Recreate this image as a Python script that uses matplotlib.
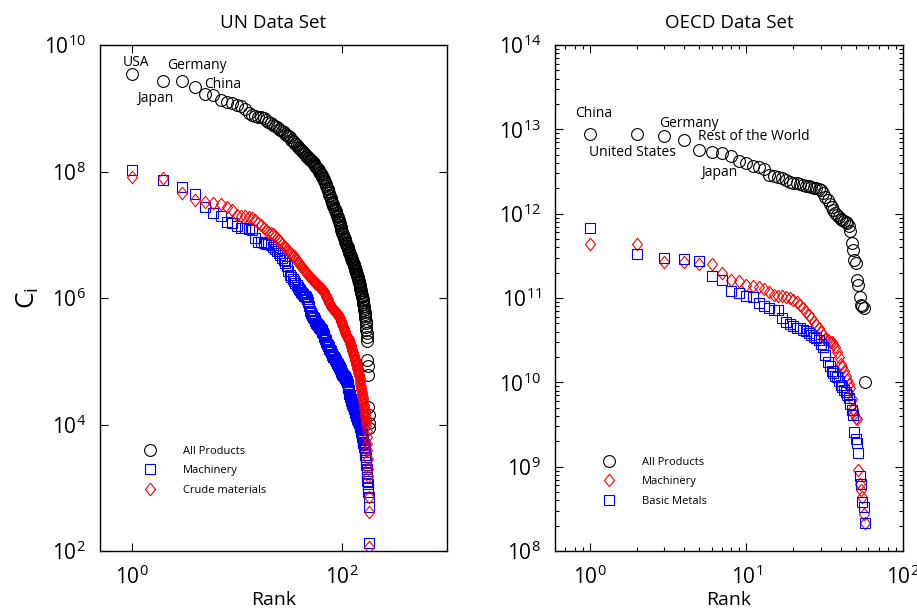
"""Rank plots of C_i for the UN and OECD data sets (log-log)."""

import numpy as np
import matplotlib
matplotlib.use("Agg")
import matplotlib.pyplot as plt
from matplotlib.ticker import LogLocator, NullFormatter

plt.rcParams["font.family"] = ["Open Sans", "DejaVu Sans"]
plt.rcParams["mathtext.fontset"] = "custom"
plt.rcParams["mathtext.rm"] = "Open Sans"
plt.rcParams["mathtext.it"] = "Open Sans:italic"
plt.rcParams["mathtext.bf"] = "Open Sans:bold"

# ---- UN data set, log10(C_i) by rank -------------------------------------
un_all_log = [
    9.55, 9.43, 9.43, 9.34, 9.22, 9.21, 9.13, 9.10, 9.08, 9.05,
    9.03, 8.99, 8.93, 8.89, 8.88, 8.87, 8.86, 8.84, 8.81, 8.79,
    8.77, 8.74, 8.72, 8.70, 8.67, 8.66, 8.64, 8.62, 8.60, 8.58,
    8.56, 8.54, 8.50, 8.48, 8.46, 8.44, 8.42, 8.39, 8.38, 8.36,
    8.34, 8.33, 8.31, 8.29, 8.27, 8.25, 8.24, 8.22, 8.21, 8.19,
    8.18, 8.16, 8.14, 8.13, 8.11, 8.09, 8.07, 8.05, 8.04, 8.02,
    8.00, 7.98, 7.96, 7.94, 7.92, 7.90, 7.88, 7.85, 7.83, 7.80,
    7.77, 7.74, 7.72, 7.69, 7.66, 7.63, 7.61, 7.58, 7.55, 7.52,
    7.50, 7.48, 7.46, 7.43, 7.41, 7.39, 7.37, 7.35, 7.32, 7.30,
    7.28, 7.25, 7.23, 7.20, 7.18, 7.15, 7.13, 7.10, 7.08, 7.05,
    7.03, 7.01, 6.99, 6.97, 6.95, 6.93, 6.91, 6.89, 6.87, 6.85,
    6.83, 6.82, 6.80, 6.78, 6.77, 6.75, 6.73, 6.72, 6.70, 6.68,
    6.66, 6.65, 6.63, 6.61, 6.60, 6.58, 6.57, 6.55, 6.54, 6.52,
    6.50, 6.48, 6.47, 6.45, 6.43, 6.42, 6.40, 6.38, 6.37, 6.35,
    6.33, 6.31, 6.29, 6.27, 6.25, 6.23, 6.21, 6.19, 6.17, 6.15,
    6.13, 6.10, 6.08, 6.05, 6.03, 6.01, 5.99, 5.97, 5.93, 5.90,
    5.87, 5.84, 5.81, 5.78, 5.75, 5.72, 5.68, 5.64, 5.60, 5.55,
    5.50, 5.45, 5.38, 5.32, 5.02, 4.92, 4.78, 4.28, 4.15, 4.03, 3.95,
]
un_machinery_log = [
    8.02, 7.87, 7.75, 7.65, 7.44, 7.35, 7.30, 7.21, 7.19, 7.14,
    7.11, 7.10, 7.09, 7.08, 6.95, 6.89, 6.88, 6.87, 6.86, 6.85,
    6.84, 6.80, 6.77, 6.74, 6.71, 6.68, 6.64, 6.60, 6.56, 6.50,
    6.43, 6.37, 6.33, 6.30, 6.27, 6.24, 6.21, 6.17, 6.14, 6.12,
    6.10, 6.08, 6.06, 6.04, 6.03, 6.02, 5.98, 5.93, 5.87, 5.80,
    5.76, 5.73, 5.70, 5.68, 5.65, 5.63, 5.61, 5.59, 5.57, 5.56,
    5.55, 5.53, 5.51, 5.49, 5.47, 5.45, 5.42, 5.39, 5.36, 5.33,
    5.30, 5.28, 5.26, 5.24, 5.22, 5.20, 5.18, 5.16, 5.14, 5.12,
    5.10, 5.09, 5.07, 5.06, 5.04, 5.03, 5.01, 5.00, 4.98, 4.97,
    4.96, 4.94, 4.93, 4.91, 4.90, 4.88, 4.87, 4.85, 4.83, 4.82,
    4.80, 4.79, 4.78, 4.77, 4.76, 4.75, 4.74, 4.73, 4.72, 4.71,
    4.69, 4.67, 4.64, 4.61, 4.58, 4.55, 4.52, 4.49, 4.46, 4.43,
    4.41, 4.39, 4.37, 4.35, 4.34, 4.33, 4.32, 4.30, 4.28, 4.26,
    4.25, 4.23, 4.21, 4.19, 4.17, 4.15, 4.13, 4.11, 4.10, 4.09,
    4.08, 4.07, 4.06, 4.05, 4.04, 4.03, 4.02, 4.00, 3.98, 3.96,
    3.94, 3.91, 3.88, 3.85, 3.82, 3.80, 3.77, 3.75, 3.73, 3.71,
    3.69, 3.67, 3.65, 3.63, 3.60, 3.56, 3.52, 3.48, 3.44, 3.40,
    3.36, 3.30, 3.24, 3.17, 3.10, 3.06, 3.00, 2.93, 2.86, 2.70, 2.13,
]
un_crude_log = [
    7.91, 7.90, 7.66, 7.55, 7.52, 7.50, 7.49, 7.44, 7.39, 7.31,
    7.30, 7.29, 7.28, 7.27, 7.23, 7.19, 7.15, 7.11, 7.07, 7.05,
    7.03, 7.01, 6.98, 6.95, 6.92, 6.89, 6.86, 6.83, 6.80, 6.77,
    6.75, 6.72, 6.70, 6.68, 6.66, 6.63, 6.60, 6.57, 6.55, 6.53,
    6.51, 6.49, 6.47, 6.45, 6.43, 6.41, 6.39, 6.37, 6.35, 6.33,
    6.32, 6.30, 6.29, 6.27, 6.26, 6.24, 6.23, 6.22, 6.20, 6.19,
    6.18, 6.17, 6.16, 6.15, 6.14, 6.13, 6.11, 6.09, 6.07, 6.05,
    6.02, 6.00, 5.98, 5.96, 5.94, 5.92, 5.90, 5.88, 5.86, 5.85,
    5.84, 5.83, 5.82, 5.81, 5.80, 5.79, 5.78, 5.77, 5.76, 5.75,
    5.74, 5.72, 5.71, 5.70, 5.69, 5.68, 5.66, 5.64, 5.62, 5.60,
    5.58, 5.56, 5.54, 5.52, 5.50, 5.48, 5.46, 5.44, 5.42, 5.41,
    5.40, 5.39, 5.38, 5.37, 5.36, 5.35, 5.34, 5.32, 5.30, 5.28,
    5.26, 5.24, 5.22, 5.20, 5.18, 5.16, 5.14, 5.12, 5.10, 5.08,
    5.06, 5.04, 5.02, 5.00, 4.98, 4.96, 4.94, 4.92, 4.90, 4.88,
    4.86, 4.84, 4.82, 4.80, 4.78, 4.76, 4.73, 4.70, 4.67, 4.64,
    4.61, 4.58, 4.55, 4.52, 4.49, 4.46, 4.43, 4.40, 4.37, 4.34,
    4.31, 4.28, 4.25, 4.22, 4.18, 4.15, 4.12, 4.09, 4.06, 4.03,
    3.98, 3.90, 3.80, 3.70, 3.60, 3.45, 3.30, 3.18, 2.85, 2.61, 2.07,
]
un_labels = ["USA", "Japan", "Germany", "China"]
un_label_xy = [(1.10, 9.72), (1.69, 9.15), (4.16, 9.68), (7.36, 9.37)]

# ---- OECD data set, log10(C_i) by rank -----------------------------------
oecd_all_log = [
    12.95, 12.94, 12.92, 12.87, 12.75, 12.73, 12.72, 12.68, 12.62, 12.60,
    12.56, 12.55, 12.53, 12.46, 12.45, 12.44, 12.42, 12.40, 12.38, 12.37,
    12.36, 12.35, 12.34, 12.33, 12.33, 12.32, 12.31, 12.30, 12.29, 12.28,
    12.25, 12.20, 12.16, 12.12, 12.08, 12.04, 12.01, 11.98, 11.96, 11.94,
    11.92, 11.91, 11.90, 11.89, 11.85, 11.80, 11.65, 11.57, 11.45, 11.41,
    11.21, 11.15, 11.01, 10.92, 10.90, 10.88, 10.01,
]
oecd_machinery_log = [
    11.64, 11.64, 11.43, 11.43, 11.40, 11.40, 11.30, 11.21, 11.20, 11.15,
    11.14, 11.13, 11.11, 11.07, 11.04, 11.03, 11.03, 11.01, 11.00, 10.98,
    10.95, 10.92, 10.88, 10.84, 10.80, 10.76, 10.72, 10.68, 10.64, 10.60,
    10.56, 10.52, 10.50, 10.48, 10.48, 10.46, 10.42, 10.36, 10.30, 10.22,
    10.18, 10.14, 10.08, 10.03, 9.98, 9.93, 9.80, 9.69, 9.63, 9.58,
    9.57, 8.96, 8.80, 8.72, 8.64, 8.44, 8.33,
]
oecd_metals_log = [
    11.83, 11.52, 11.48, 11.46, 11.44, 11.26, 11.21, 11.08, 11.06, 11.02,
    11.01, 10.94, 10.90, 10.88, 10.86, 10.86, 10.76, 10.72, 10.69, 10.67,
    10.65, 10.64, 10.62, 10.61, 10.59, 10.56, 10.54, 10.53, 10.50, 10.46,
    10.42, 10.32, 10.24, 10.20, 10.14, 10.11, 10.08, 10.06, 10.02, 9.97,
    9.94, 9.91, 9.89, 9.85, 9.81, 9.74, 9.67, 9.61, 9.41, 9.33,
    9.28, 9.16, 8.89, 8.80, 8.58, 8.52, 8.33,
]
oecd_labels = ["China", "United States", "Germany", "Rest of the World", "Japan"]
oecd_label_xy = [(1.06, 13.19), (1.88, 12.72), (4.27, 13.07), (11.2, 12.91), (6.73, 12.49)]


def ranked(logs):
    vals = 10.0 ** np.asarray(logs)
    return np.arange(1, len(vals) + 1), vals


def style_axis(ax):
    ax.tick_params(which="both", direction="in", top=True, right=True,
                   labelsize=15, width=0.8, pad=10)
    ax.tick_params(which="major", length=6)
    ax.tick_params(which="minor", length=3)
    for sp in ax.spines.values():
        sp.set_linewidth(1.0)


fig = plt.figure(figsize=(9.17, 6.13), dpi=100)
ax1 = fig.add_axes([0.1091, 0.1011, 0.3784, 0.8254])
ax2 = fig.add_axes([0.6052, 0.1011, 0.3795, 0.8254])

# MATLAB-like diamond: a bit narrower than tall
diamond = [(0, 1), (0.8, 0), (0, -1), (-0.8, 0), (0, 1)]

mk = dict(linestyle="none", markerfacecolor="none", markeredgewidth=0.8)
circ = dict(marker="o", markersize=8.5, color="black")
sq = dict(marker="s", markersize=7, color="#0000ff")
dia = dict(marker=diamond, markersize=9, color="#ff0000")

# UN panel
x, y = ranked(un_all_log)
ax1.plot(x, y, label="All Products", **circ, **mk)
x, y = ranked(un_machinery_log)
ax1.plot(x, y, label="Machinery", **sq, **mk)
x, y = ranked(un_crude_log)
ax1.plot(x, y, label="Crude materials", **dia, **mk)

ax1.set_xscale("log")
ax1.set_yscale("log")
ax1.set_xlim(0.5, 1000)
ax1.set_ylim(1e2, 1e10)
ax1.set_xticks([1, 100])
ax1.set_yticks([1e2, 1e4, 1e6, 1e8, 1e10])
ax1.minorticks_off()
style_axis(ax1)
for name, (lx, ly) in zip(un_labels, un_label_xy):
    ax1.text(lx, 10 ** ly, name, ha="center", va="center", fontsize=10)
ax1.set_title("UN Data Set", fontsize=13.5, pad=12)
ax1.set_xlabel("Rank", fontsize=14, labelpad=2)
ax1.set_ylabel(r"$\mathrm{C_i}$", fontsize=19)
ax1.yaxis.set_label_coords(-0.17, 0.5)
ax1.legend(loc="upper left", bbox_to_anchor=(0.128, 0.2075), frameon=False,
           fontsize=8, handlelength=1.0, handletextpad=2.5, labelspacing=0.75,
           borderpad=0, borderaxespad=0, numpoints=1)

# OECD panel
x, y = ranked(oecd_all_log)
ax2.plot(x, y, label="All Products", **circ, **mk)
x, y = ranked(oecd_machinery_log)
ax2.plot(x, y, label="Machinery", **dia, **mk)
x, y = ranked(oecd_metals_log)
ax2.plot(x, y, label="Basic Metals", **sq, **mk)

ax2.set_xscale("log")
ax2.set_yscale("log")
ax2.set_xlim(0.6, 100)
ax2.set_ylim(1e8, 1e14)
ax2.set_xticks([1, 10, 100])
ax2.set_yticks([1e8, 1e9, 1e10, 1e11, 1e12, 1e13, 1e14])
ax2.xaxis.set_minor_locator(LogLocator(base=10, subs=np.arange(2, 10)))
ax2.yaxis.set_minor_locator(LogLocator(base=10, subs=np.arange(2, 10)))
ax2.xaxis.set_minor_formatter(NullFormatter())
ax2.yaxis.set_minor_formatter(NullFormatter())
style_axis(ax2)
for name, (lx, ly) in zip(oecd_labels, oecd_label_xy):
    ax2.text(lx, 10 ** ly, name, ha="center", va="center", fontsize=10)
ax2.set_title("OECD Data Set", fontsize=13.5, pad=12)
ax2.set_xlabel("Rank", fontsize=14, labelpad=2)
ax2.legend(loc="upper left", bbox_to_anchor=(0.139, 0.186), frameon=False,
           fontsize=8, handlelength=1.0, handletextpad=2.5, labelspacing=0.75,
           borderpad=0, borderaxespad=0, numpoints=1)

fig.savefig("out.png", dpi=100)
